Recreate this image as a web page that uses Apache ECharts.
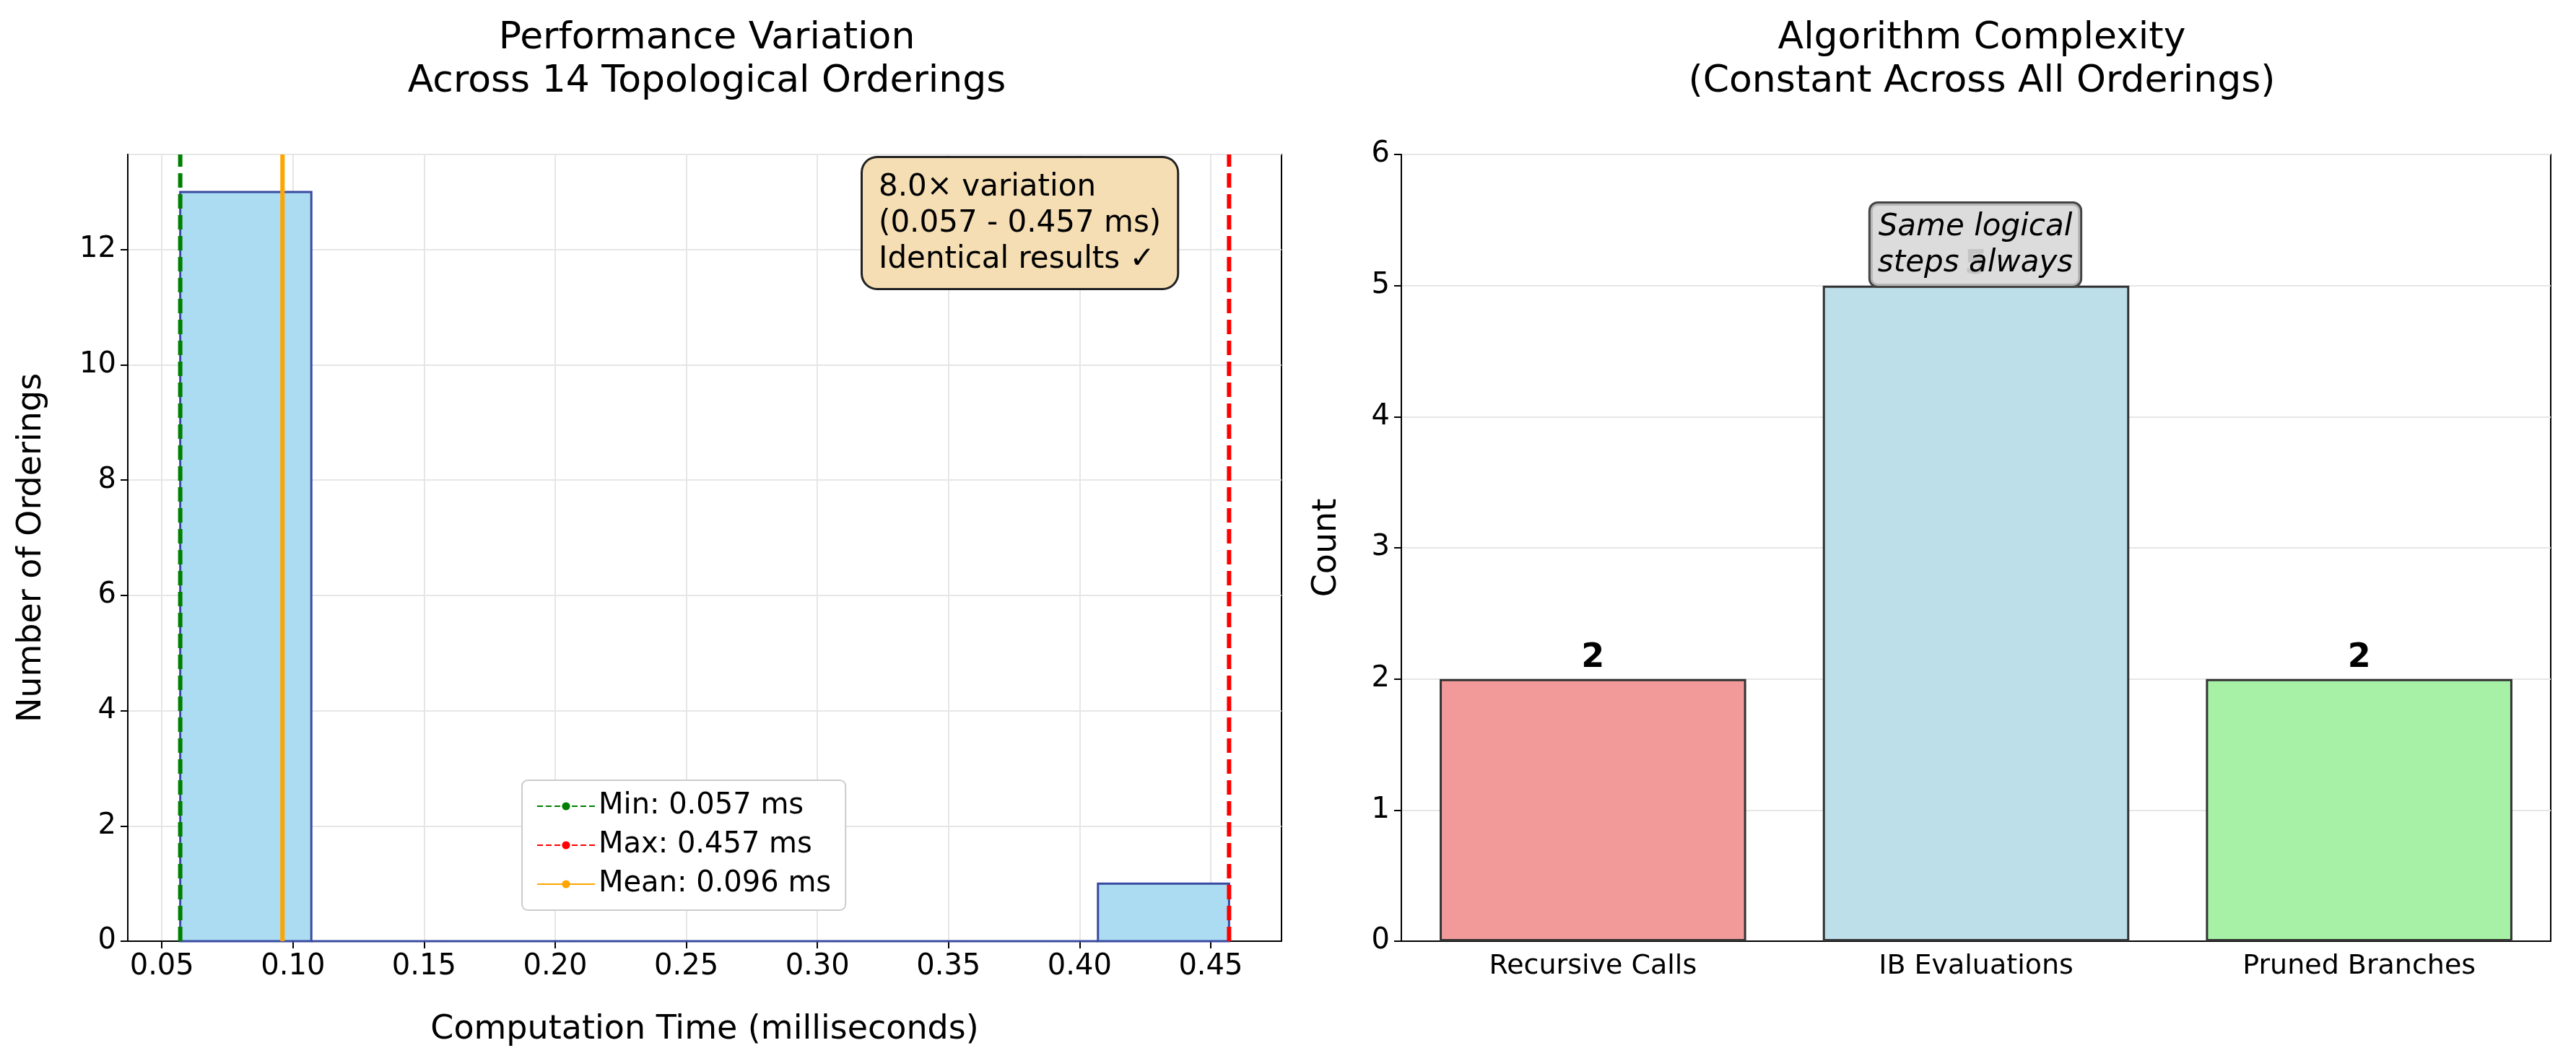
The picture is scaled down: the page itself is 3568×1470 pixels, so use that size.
<!DOCTYPE html>
<html>
<head>
<meta charset="utf-8">
<script src="https://cdn.jsdelivr.net/npm/echarts@6/dist/echarts.min.js"></script>
<style>html,body{margin:0;background:#fff}#c{width:3568px;height:1470px}</style>
</head>
<body>
<div id="c"></div>
<script>
// histogram bins (ms) and counts
var binEdges = [0.057, 0.107, 0.157, 0.207, 0.257, 0.307, 0.357, 0.407, 0.457];
var binCounts = [13, 0, 0, 0, 0, 0, 0, 1];
var minTime = 0.057, maxTime = 0.457, meanTime = 0.096;
var xTicks = [0.05, 0.10, 0.15, 0.20, 0.25, 0.30, 0.35, 0.40, 0.45];

var stepNames = ['Recursive Calls', 'IB Evaluations', 'Pruned Branches'];
var stepCounts = [2, 5, 2];
var stepColors = ['#f29a9a', '#bddfea', '#a6f1a6'];

var font = 'DejaVu Sans';
var histData = [];
for (var i = 0; i < binCounts.length; i++) {
    histData.push([binEdges[i], binEdges[i + 1], binCounts[i]]);
}
var refLines = [
    {name: 'Min: 0.057 ms', x: minTime, color: 'green', dash: [20, 9]},
    {name: 'Max: 0.457 ms', x: maxTime, color: 'red', dash: [20, 9]},
    {name: 'Mean: 0.096 ms', x: meanTime, color: 'orange', dash: null}
];

var chart = echarts.init(document.getElementById('c'));

var series = [{
    type: 'custom', xAxisIndex: 0, yAxisIndex: 0, data: histData, z: 2,
    renderItem: function (params, api) {
        var p0 = api.coord([api.value(0), 0]);
        var p1 = api.coord([api.value(1), api.value(2)]);
        return {type: 'rect', shape: {x: p0[0], y: p1[1], width: p1[0] - p0[0], height: p0[1] - p1[1]},
                style: {fill: '#abdcf1', stroke: '#3a4aa0', lineWidth: 3}};
    }
}];
refLines.forEach(function (r) {
    // legend entry
    series.push({name: r.name, type: 'line', xAxisIndex: 0, yAxisIndex: 0, data: [], symbol: 'none',
                 itemStyle: {color: r.color},
                 lineStyle: {color: r.color, width: 7, type: r.dash ? 'dashed' : 'solid'}});
    // vertical line through the axis scale
    series.push({type: 'custom', xAxisIndex: 0, yAxisIndex: 0, data: [[r.x]], z: 5,
        renderItem: function (params, api) {
            var a = api.coord([api.value(0), 0]);
            var b = api.coord([api.value(0), 13.65]);
            return {type: 'line', shape: {x1: a[0], y1: a[1], x2: b[0], y2: b[1]},
                    style: {stroke: r.color, lineWidth: 6, lineDash: r.dash}};
        }});
});
series.push({
    type: 'bar', xAxisIndex: 1, yAxisIndex: 1, barWidth: '80%',
    data: stepCounts.map(function (v, i) {
        return {value: v, itemStyle: {color: stepColors[i]}, label: {color: i === 1 ? '#888' : '#000'}};
    }),
    itemStyle: {borderColor: '#333', borderWidth: 3},
    label: {show: true, position: 'top', fontSize: 46, fontWeight: 'bold', distance: 6}
});

var tick = {fontSize: 40, color: '#000', margin: 16};
chart.setOption({
    animation: false,
    textStyle: {fontFamily: font},
    title: [
        {text: 'Performance Variation\nAcross 14 Topological Orderings', left: 974, top: 18, textAlign: 'center',
         textStyle: {fontSize: 52, fontWeight: 'normal', color: '#000', lineHeight: 60, fontFamily: font}},
        {text: 'Algorithm Complexity\n(Constant Across All Orderings)', left: 2740, top: 18, textAlign: 'center',
         textStyle: {fontSize: 52, fontWeight: 'normal', color: '#000', lineHeight: 60, fontFamily: font}}
    ],
    legend: {
        left: 723, top: 1081, orient: 'vertical', itemWidth: 80, itemHeight: 14, itemGap: 14,
        padding: [16, 20, 16, 20], backgroundColor: '#fff', borderColor: '#ccc', borderWidth: 2, borderRadius: 8,
        textStyle: {fontSize: 40, color: '#000', fontFamily: font},
        data: refLines.map(function (r) { return r.name; })
    },
    grid: [
        {left: 177, top: 214, width: 1598, height: 1090, show: true, borderColor: '#000', borderWidth: 2},
        {left: 1941, top: 214, width: 1592, height: 1090, show: true, borderColor: '#000', borderWidth: 2}
    ],
    xAxis: [
        {type: 'value', gridIndex: 0, min: 0.037, max: 0.477,
         name: 'Computation Time (milliseconds)', nameLocation: 'middle', nameGap: 100,
         nameTextStyle: {fontSize: 46, color: '#000'},
         axisLine: {lineStyle: {color: '#000', width: 2}},
         axisLabel: Object.assign({customValues: xTicks, formatter: function (v) { return v.toFixed(2); }}, tick),
         axisTick: {customValues: xTicks, length: 10, lineStyle: {color: '#000', width: 2}},
         splitLine: {show: true, lineStyle: {color: '#e6e6e6', width: 2}}},
        {type: 'category', gridIndex: 1, data: stepNames,
         axisLine: {lineStyle: {color: '#000', width: 2}},
         axisTick: {alignWithLabel: true, length: 10, lineStyle: {color: '#000', width: 2}},
         axisLabel: {fontSize: 38, color: '#000', margin: 16},
         splitLine: {show: false}}
    ],
    yAxis: [
        {type: 'value', gridIndex: 0, min: 0, max: 13.65, interval: 2,
         name: 'Number of Orderings', nameLocation: 'middle', nameGap: 110,
         nameTextStyle: {fontSize: 46, color: '#000'},
         axisLine: {show: true, lineStyle: {color: '#000', width: 2}},
         axisTick: {show: true, length: 10, lineStyle: {color: '#000', width: 2}},
         axisLabel: Object.assign({showMaxLabel: false}, tick),
         splitLine: {show: true, lineStyle: {color: '#e6e6e6', width: 2}}},
        {type: 'value', gridIndex: 1, min: 0, max: 6, interval: 1,
         name: 'Count', nameLocation: 'middle', nameGap: 80,
         nameTextStyle: {fontSize: 46, color: '#000'},
         axisLine: {show: true, lineStyle: {color: '#000', width: 2}},
         axisTick: {show: true, length: 10, lineStyle: {color: '#000', width: 2}},
         axisLabel: tick,
         splitLine: {show: true, lineStyle: {color: '#e6e6e6', width: 2}}}
    ],
    series: series,
    graphic: [
        {type: 'text', left: 1192, top: 216, z: 100,
         style: {text: '8.0× variation\n(0.057 - 0.457 ms)\nIdentical results ✓', fontSize: 42, lineHeight: 50,
                 fontFamily: font, fill: '#000', backgroundColor: '#f5deb3', borderColor: '#222', borderWidth: 3,
                 borderRadius: 20, padding: [16, 22, 14, 22]}},
        {type: 'text', x: 2736, y: 282, z: 100,
         style: {text: 'Same logical\nsteps always', fontSize: 42, lineHeight: 50, fontStyle: 'italic',
                 align: 'center', verticalAlign: 'top',
                 fontFamily: font, fill: '#000', backgroundColor: 'rgba(211,211,211,0.8)', borderColor: '#444', borderWidth: 3,
                 borderRadius: 10, padding: [8, 10, 6, 10]}}
    ]
});
</script>
</body>
</html>
